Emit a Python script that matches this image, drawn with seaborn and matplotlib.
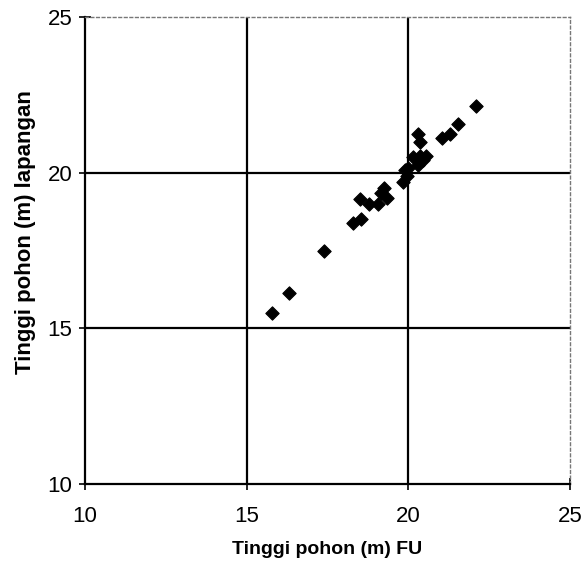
import matplotlib
matplotlib.use("Agg")
import matplotlib.pyplot as plt
import seaborn as sns
import pandas as pd

# tinggi pohon: hasil foto udara (FU) vs lapangan
tinggi_fu = [15.8, 16.3, 17.4,
             18.3, 18.55, 18.5, 18.8, 19.05, 19.15, 19.25, 19.35,
             19.85, 19.9, 19.95, 20.0,
             20.15, 20.3, 20.35, 20.55, 20.45,
             20.3, 20.35,
             21.05, 21.3, 21.55, 22.1]
tinggi_lap = [15.5, 16.15, 17.5,
              18.4, 18.5, 19.15, 19.0, 19.0, 19.35, 19.5, 19.2,
              19.7, 20.1, 19.9, 20.15,
              20.5, 20.25, 20.55, 20.55, 20.4,
              21.25, 21.0,
              21.1, 21.25, 21.55, 22.15]
ticks = [10, 15, 20, 25]

df = pd.DataFrame({"fu": tinggi_fu, "lap": tinggi_lap})

sns.set_style("white")
plt.rcParams["font.family"] = ["Liberation Sans", "DejaVu Sans"]
plt.rcParams["text.color"] = "black"
plt.rcParams["axes.labelcolor"] = "black"
plt.rcParams["xtick.color"] = "black"
plt.rcParams["ytick.color"] = "black"

fig = plt.figure(figsize=(5.81, 5.67), dpi=100)
ax = fig.add_axes([0.146, 0.146, 0.835, 0.824])

for v in [15, 20]:
    ax.axvline(v, color="black", lw=1.6, zorder=1)
    ax.axhline(v, color="black", lw=1.6, zorder=1)

sns.scatterplot(data=df, x="fu", y="lap", marker="D", s=46, color="black",
                edgecolor="black", linewidth=0.8, ax=ax, zorder=3)

ax.set_xlim(10, 25)
ax.set_ylim(10, 25)
ax.set_xticks(ticks)
ax.set_yticks(ticks)
ax.tick_params(axis="both", direction="inout", length=8, width=1.2,
               labelsize=16, bottom=True, left=True)
ax.tick_params(axis="x", pad=12)
ax.tick_params(axis="y", pad=5)

for side in ["left", "bottom"]:
    ax.spines[side].set_color("black")
    ax.spines[side].set_linewidth(1.6)
for side in ["top", "right"]:
    ax.spines[side].set_color("#777777")
    ax.spines[side].set_linewidth(1.0)
    ax.spines[side].set_linestyle((0, (2, 2)))

ax.set_xlabel("Tinggi pohon (m) FU", fontsize=14, fontweight="bold", labelpad=10)
ax.set_ylabel("Tinggi pohon (m) lapangan", fontsize=16, fontweight="bold")
ax.yaxis.set_label_coords(-0.1, 0.54)

fig.savefig("out.png", dpi=100)
